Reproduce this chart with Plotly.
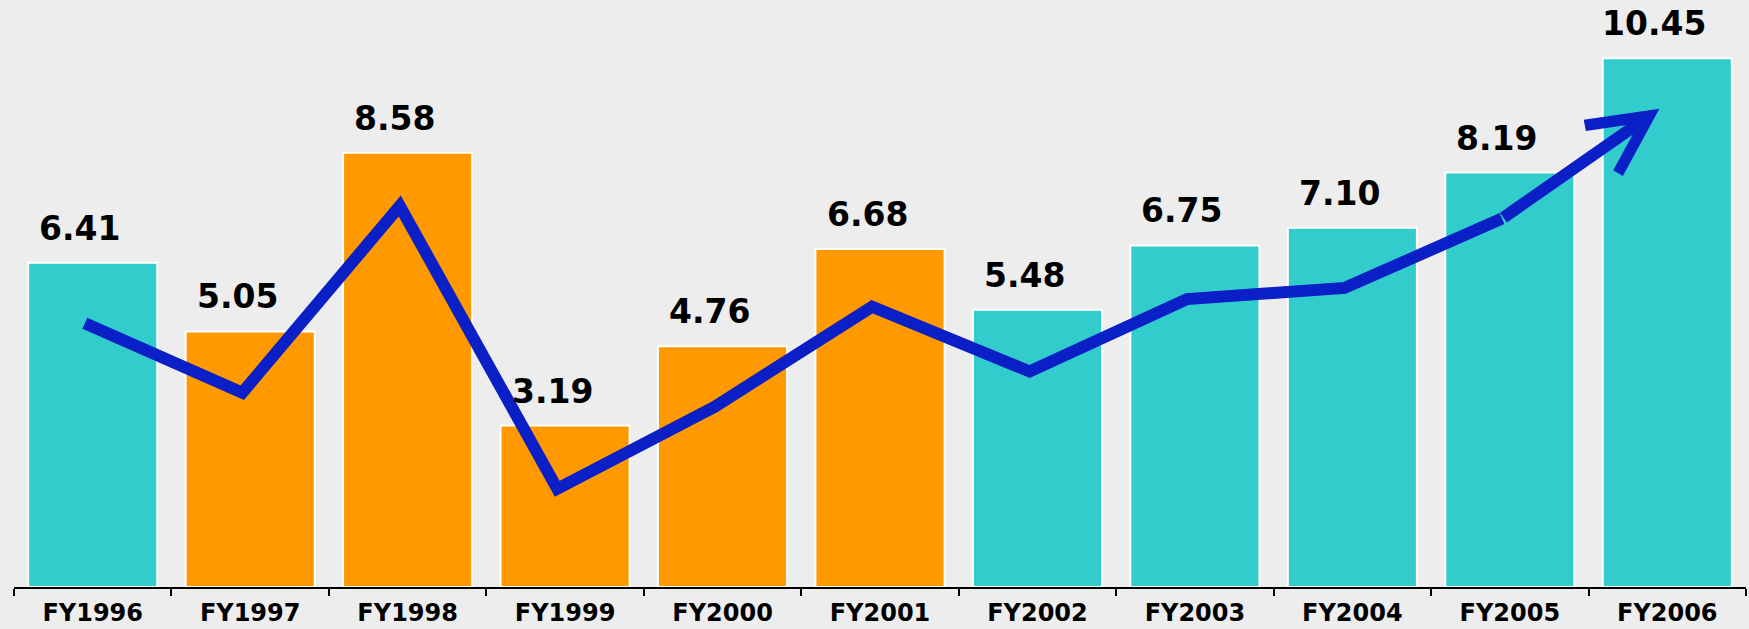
import plotly.graph_objects as go

years = ["FY1996", "FY1997", "FY1998", "FY1999", "FY2000", "FY2001",
         "FY2002", "FY2003", "FY2004", "FY2005", "FY2006"]
values = [6.41, 5.05, 8.58, 3.19, 4.76, 6.68, 5.48, 6.75, 7.10, 8.19, 10.45]
bar_colors = ["#33CCCC", "#FF9900", "#FF9900", "#FF9900", "#FF9900", "#FF9900",
              "#33CCCC", "#33CCCC", "#33CCCC", "#33CCCC", "#33CCCC"]
trend = [5.21, 3.84, 7.53, 1.94, 3.56, 5.54, 4.26, 5.69, 5.91, 7.28, 9.45]
labels = ["6.41", "5.05", "8.58", "3.19", "4.76", "6.68", "5.48", "6.75", "7.10", "8.19", "10.45"]

BLUE = "#0b1fc6"
FONT = "DejaVu Sans"

fig = go.Figure()
fig.add_trace(go.Bar(
    x=years, y=values,
    marker=dict(color=bar_colors, line=dict(color="white", width=2)),
    hoverinfo="skip",
))

idx = list(range(len(years)))
fig.add_trace(go.Scatter(
    x=idx[:-1], y=trend[:-1], xaxis="x2", yaxis="y",
    mode="lines", line=dict(color=BLUE, width=12),
    hoverinfo="skip",
))

for yr, v, t in zip(years, values, labels):
    fig.add_annotation(
        x=yr, y=v, xref="x", yref="y", text="<b>%s</b>" % t, showarrow=False,
        yanchor="bottom", yshift=13, xshift=-13,
        font=dict(family=FONT, size=33, color="black"),
    )

fig.add_annotation(
    x=idx[-1], y=trend[-1], ax=idx[-2], ay=trend[-2],
    xref="x2", yref="y", axref="x2", ayref="y",
    text="", showarrow=True, arrowhead=5, arrowwidth=12, arrowsize=0.95,
    arrowcolor=BLUE, standoff=0, startstandoff=0,
)

fig.update_layout(
    width=1749, height=629,
    margin=dict(l=14, r=3, t=0, b=42, autoexpand=False),
    paper_bgcolor="#ededed", plot_bgcolor="#ededed",
    bargap=0.18,
    showlegend=False,
    xaxis=dict(
        type="category", range=[-0.5, 10.5], automargin=False,
        showline=True, linecolor="black", linewidth=2,
        ticks="outside", tickson="boundaries", ticklen=7, tickwidth=2, tickcolor="black",
        tickfont=dict(family=FONT, size=24, color="black"),
        tickprefix="<b>", ticksuffix="</b>", ticklabelstandoff=3,
        showgrid=False, zeroline=False,
    ),
    xaxis2=dict(
        overlaying="x", range=[-0.45, 10.55], visible=False, automargin=False,
        showgrid=False, zeroline=False,
    ),
    yaxis=dict(range=[0, 11.6], visible=False, automargin=False,
               showgrid=False, zeroline=False),
)

fig.write_html("out.html", config={"displayModeBar": False},
               post_script="document.body.style.margin='0px';")
